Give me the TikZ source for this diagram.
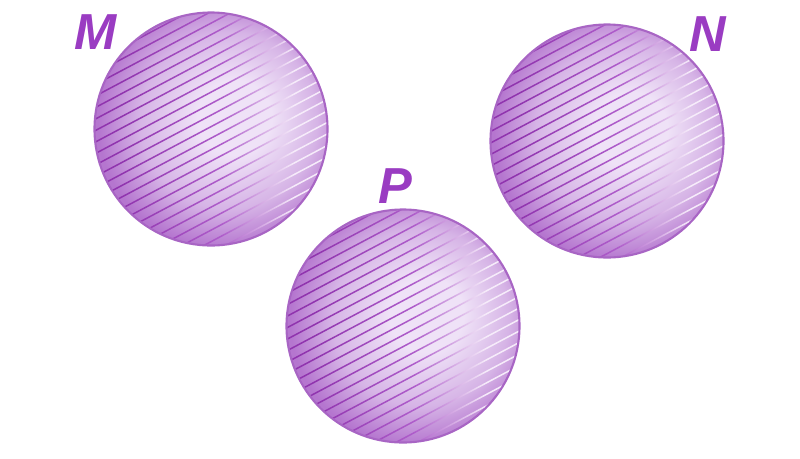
\documentclass[tikz,border=0pt]{standalone}
\usepackage{fontspec}
\setmainfont{Liberation Sans}
\definecolor{ballin}{HTML}{EFE2F7}
\definecolor{ballmid}{HTML}{D6B4E6}
\definecolor{ballout}{HTML}{B576CF}
\definecolor{rimc}{HTML}{A865C4}
\definecolor{hatchd}{HTML}{9034AE}
\definecolor{hatchm}{HTML}{AE5CCA}
\definecolor{hatchl}{HTML}{F6ECFA}
\definecolor{labc}{HTML}{9A3CC2}
\pgfdeclareradialshading{ballsh}{\pgfpoint{6bp}{3bp}}{color(0bp)=(ballin); color(8bp)=(ballin); color(19bp)=(ballmid); color(27bp)=(ballout); color(50bp)=(ballout)}
\pgfdeclarehorizontalshading{hatchsh}{100bp}{color(0bp)=(hatchd); color(33bp)=(hatchd); color(52bp)=(hatchm); color(66bp)=(hatchl); color(100bp)=(hatchl)}
\tikzset{
  ball/.style={circle, minimum size=2.33cm, inner sep=0pt, draw=rimc, line width=0.6pt,
    shading=ballsh,
    path picture={
      \begin{scope}[shift={(path picture bounding box.center)}]
        \shade[shading=hatchsh]
          \foreach \c in {-1.48,-1.365,...,1.5}{
            (-1.3,\c-0.69) -- (1.3,\c+0.69) -- (1.3,\c+0.707) -- (-1.3,\c-0.673) -- cycle};
      \end{scope}
    }},
  lab/.style={text=labc, font=\fontsize{14.4pt}{16pt}\selectfont\bfseries\itshape, inner sep=0pt}
}
\begin{document}
\begin{tikzpicture}
\useasboundingbox (0,0) rectangle (8,4.58);
\node[ball] (M) at (2.11,3.29) {};
\node[ball] (N) at (6.07,3.17) {};
\node[ball] (P) at (4.03,1.32) {};
\node[lab] (labM) at (0.96,4.26) {M};
\node[lab] (labN) at (7.08,4.24) {N};
\node[lab] (labP) at (3.95,2.72) {P};
\end{tikzpicture}
\end{document}
